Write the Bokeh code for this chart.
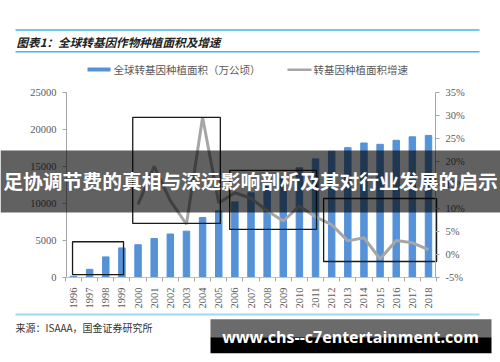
from bokeh.plotting import figure
from bokeh.models import (Range1d, LinearAxis, FixedTicker, PrintfTickFormatter,
                          Label, BoxAnnotation)
from bokeh.embed import file_html
from bokeh.resources import INLINE

# ---------------- data ----------------
years = [1996, 1997, 1998, 1999, 2000, 2001, 2002, 2003, 2004, 2005, 2006, 2007,
         2008, 2009, 2010, 2011, 2012, 2013, 2014, 2015, 2016, 2017, 2018]
year_labels = [str(y) for y in years]
area = [170, 1100, 2780, 3990, 4420, 5260, 5870, 6250, 8100, 9000, 10200, 11430,
        12500, 13400, 14800, 16000, 17030, 17520, 18150, 17970, 18510, 18980, 19170]
growth_years = [2000, 2001, 2002, 2003, 2004, 2005, 2006, 2007, 2008, 2009, 2010,
                2011, 2012, 2013, 2014, 2015, 2016, 2017, 2018]
growth = [10.8, 19.0, 11.6, 6.5, 29.6, 11.1, 13.3, 12.1, 9.4, 7.2, 10.4,
          8.1, 6.4, 2.9, 3.6, -1.0, 3.0, 2.5, 1.0]
left_ticks = [0, 5000, 10000, 15000, 20000, 25000]
right_ticks = [-5, 0, 5, 10, 15, 20, 25, 30, 35]

# highlight boxes drawn on the chart (year span, area span)
box_x0 = [1995.94, 1999.67, 2005.68, 2011.5]
box_x1 = [1999.1, 2005.1, 2011.06, 2018.5]
box_bottom = [400, 7290, 6480, 2160]
box_top = [4820, 21590, 14440, 10660]

title_text = "图表1：全球转基因作物种植面积及增速"
legend_bar = "全球转基因种植面积（万公顷）"
legend_line = "转基因种植面积增速"
source_text = "来源：ISAAA，国金证券研究所"
banner_text = "足协调节费的真相与深远影响剖析及其对行业发展的启示"
watermark_text = "www.chs--c7entertainment.com"

BAR = "#5592d8"
LINE = "#a6a6a6"
AX = "#a6a6a6"
TXT = "#595959"
SERIF = "Liberation Serif"
CJK = "Noto Sans CJK SC"

# ---------------- geometry (pixels) ----------------
W, H = 500, 362
PL, PR, PT, PB = 66, 435, 91.7, 277          # plotting area inside the canvas
X_LO, X_HI = 1995.566, 2018.434               # category axis limits
Y_LO, Y_HI = 0, 25000
P_LO, P_HI = -5, 35

kx = (PR - PL) / (X_HI - X_LO)
ky = (PB - PT) / (Y_HI - Y_LO)
kp = (PB - PT) / (P_HI - P_LO)
x_range = Range1d(X_LO - PL / kx, X_HI + (W - PR) / kx)
y_range = Range1d(Y_LO - (H - PB) / ky, Y_HI + PT / ky)
p_range = Range1d(P_LO - (H - PB) / kp, P_HI + PT / kp)

p = figure(width=W, height=H, output_backend="svg", toolbar_location=None,
           x_range=x_range, y_range=y_range,
           x_axis_location=None, y_axis_location=None,
           min_border=0, min_border_left=0, min_border_right=0,
           min_border_top=0, min_border_bottom=0,
           background_fill_color="white", border_fill_color="white")
p.outline_line_color = None
p.grid.visible = False
p.extra_y_ranges = {"pct": p_range}

# bars
p.vbar(x=years, top=area, width=0.4, color=BAR)

# growth line on right axis
p.line(growth_years, growth, y_range_name="pct", color=LINE, line_width=3)

# highlight boxes
p.quad(left=box_x0, right=box_x1, bottom=box_bottom, top=box_top,
       fill_color=None, line_color="#1a1a1a", line_width=1.3)


def style_axis(a):
    a.major_tick_in = 0
    a.minor_tick_in = 0
    a.major_label_text_font = SERIF
    a.major_label_text_font_size = "10.5px"
    a.major_label_text_color = TXT
    a.major_label_standoff = 6
    a.axis_line_color = AX
    a.major_tick_line_color = AX


# bottom (category) axis
xa = LinearAxis(ticker=FixedTicker(ticks=years,
                                   minor_ticks=[y + 0.5 for y in [1995] + years]),
                fixed_location=Y_LO, bounds=(X_LO, X_HI))
style_axis(xa)
xa.major_label_overrides = {y: s for y, s in zip(years, year_labels)}
xa.major_label_orientation = 3.14159265 / 2
xa.major_tick_out = 0
xa.minor_tick_out = 4
xa.minor_tick_line_color = AX
xa.axis_line_color = "#bfbfbf"
p.add_layout(xa, "below")

# left axis
ya = LinearAxis(ticker=FixedTicker(ticks=left_ticks), fixed_location=X_LO,
                bounds=(Y_LO, Y_HI))
style_axis(ya)
ya.major_tick_out = 4
ya.minor_tick_line_color = None
p.add_layout(ya, "left")

# right axis
ra = LinearAxis(y_range_name="pct", ticker=FixedTicker(ticks=right_ticks),
                formatter=PrintfTickFormatter(format="%d%%"),
                fixed_location=X_HI, bounds=(P_LO, P_HI))
style_axis(ra)
ra.major_tick_out = 4
ra.minor_tick_line_color = None
p.add_layout(ra, "right")


def cbox(l, r, t, b, color, alpha=1.0):
    p.add_layout(BoxAnnotation(left=l, right=r, top=H - t, bottom=H - b,
                               left_units="screen", right_units="screen",
                               top_units="screen", bottom_units="screen",
                               fill_color=color, fill_alpha=alpha,
                               line_color=None, level="overlay"))


def clabel(x, y, text, size, color, font, style="normal", align="left"):
    p.add_layout(Label(x=x, y=H - y, x_units="screen", y_units="screen", text=text,
                       text_font=font, text_font_size=size,
                       text_color=color, text_font_style=style,
                       text_align=align, text_baseline="middle", level="overlay"))


# header
cbox(15, 479, 28.8, 30.2, "#45b6e6")
clabel(16, 41, title_text, "11.6px", "#222222", CJK, "bold italic")
cbox(15, 479, 50.5, 51.9, "#45b6e6")

# legend
cbox(87, 110, 67, 71, BAR)
clabel(113, 69, legend_bar, "10.5px", TXT, CJK)
cbox(287, 311, 68, 70.5, LINE)
clabel(313, 69, legend_line, "10.5px", TXT, CJK)

# footer
cbox(15, 479, 313, 315, "#a3d9f0")
clabel(15, 327, source_text, "10px", "#333333", CJK)

# banner overlay
cbox(0, 500, 150, 212, "black", 0.62)
clabel(250, 180, banner_text, "19.8px", "white", CJK, "bold", "center")

# watermark
cbox(210, 491, 318.7, 336.7, "#6b6b6b")
cbox(210, 491, 336.7, 352.7, "black")
clabel(350, 336.7, watermark_text, "16px", "white", "Open Sans", "bold", "center")

open("out.html", "w").write(file_html(p, INLINE))
